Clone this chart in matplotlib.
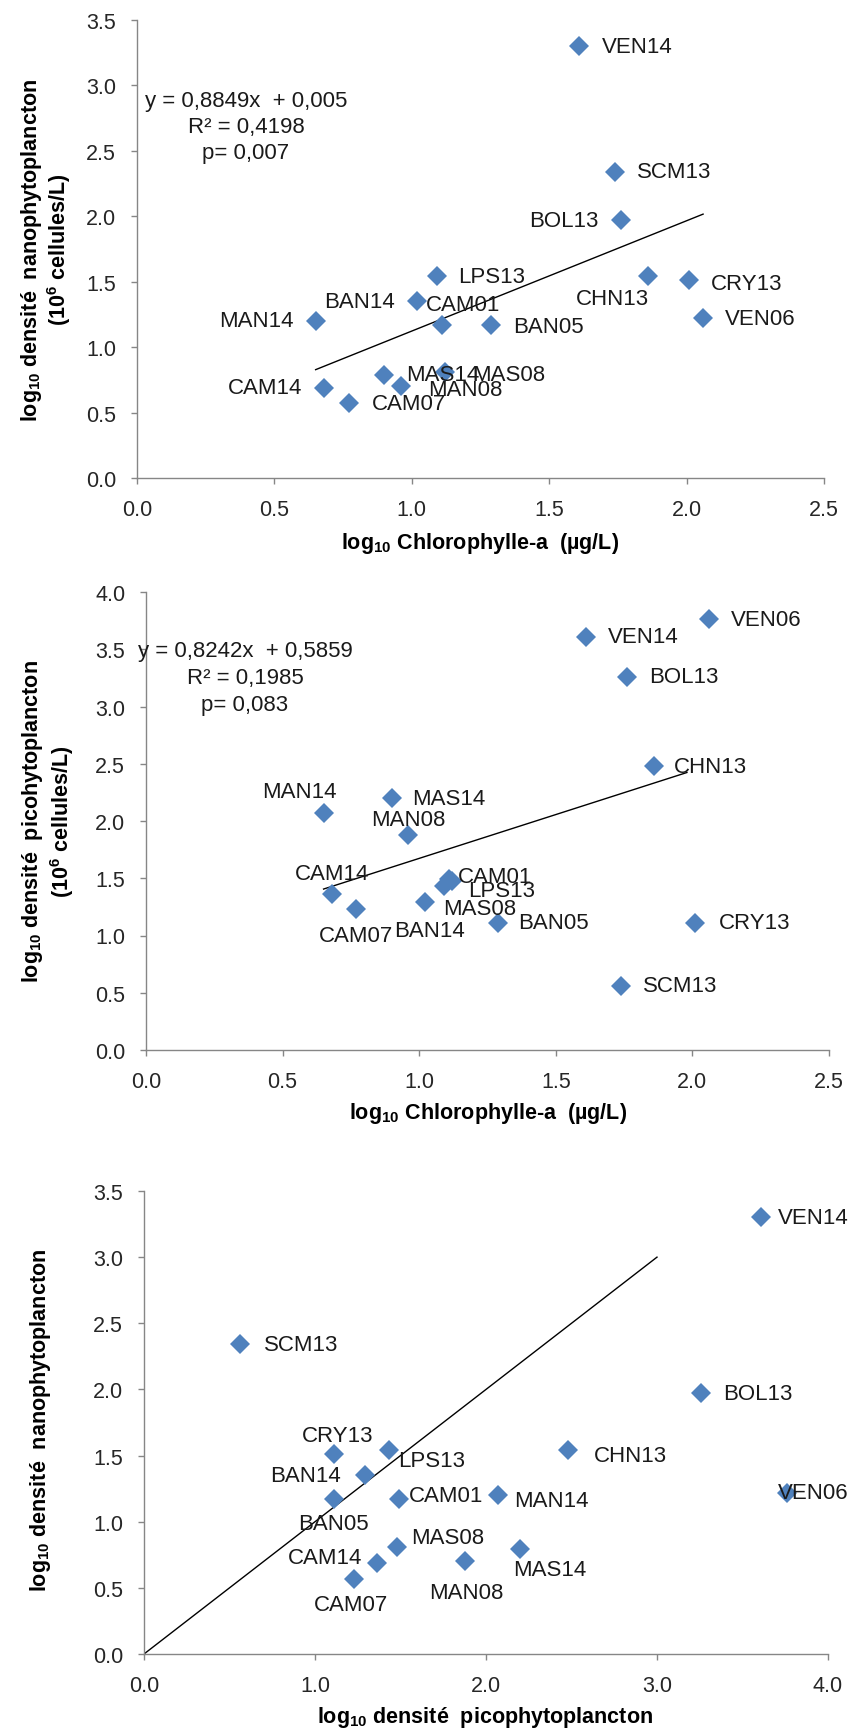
import numpy as np
import matplotlib
matplotlib.use("Agg")
import matplotlib.pyplot as plt

plt.rcParams['font.family'] = ['Liberation Sans', 'DejaVu Sans']
plt.rcParams['mathtext.fontset'] = 'custom'
plt.rcParams['mathtext.rm'] = 'Liberation Sans'
plt.rcParams['mathtext.bf'] = 'Liberation Sans:bold'

# data (log10 values per site)
sites = ['VEN14', 'SCM13', 'BOL13', 'LPS13', 'CHN13', 'CRY13', 'BAN14', 'CAM01',
         'BAN05', 'MAN14', 'VEN06', 'MAS14', 'MAS08', 'MAN08', 'CAM14', 'CAM07']
chl = [1.61, 1.74, 1.76, 1.09, 1.86, 2.01, 1.02, 1.11, 1.29, 0.65, 2.06, 0.90, 1.12, 0.96, 0.68, 0.77]
nano = [3.30, 2.34, 1.97, 1.54, 1.54, 1.51, 1.35, 1.17, 1.17, 1.20, 1.22, 0.79, 0.81, 0.70, 0.69, 0.57]
pico = [3.61, 0.56, 3.26, 1.43, 2.48, 1.11, 1.29, 1.49, 1.11, 2.07, 3.76, 2.20, 1.48, 1.88, 1.36, 1.23]

eq1 = ['y = 0,8849x  + 0,005', 'R² = 0,4198', 'p= 0,007']
eq2 = ['y = 0,8242x  + 0,5859', 'R² = 0,1985', 'p= 0,083']

# the pico trendline stops short of the last point in the original
trend2_xmax = 1.98

# label offsets in pixels (dx, dy down, alignment)
lab1 = [(22, 0, 'left'), (22, 0, 'left'), (-22, 0, 'right'), (22, 0, 'left'),
        (-36, 22, 'center'), (22, 3, 'left'), (-22, 0, 'right'), (-16, -20, 'left'),
        (22, 2, 'left'), (-22, 0, 'right'), (22, 0, 'left'), (22, 0, 'left'),
        (27, 2, 'left'), (27, 3, 'left'), (-22, 0, 'right'), (23, 0, 'left')]
lab2 = [(22, 0, 'left'), (22, 0, 'left'), (22, 0, 'left'), (24, 4, 'left'),
        (20, 0, 'left'), (24, 0, 'left'), (5, 28, 'center'), (9, -3, 'left'),
        (20, 0, 'left'), (-24, -21, 'center'), (22, 0, 'left'), (20, 0, 'left'),
        (28, 28, 'center'), (0, -15, 'center'), (0, -21, 'center'), (0, 26, 'center')]
lab3 = [(17, 0, 'left'), (24, 0, 'left'), (22, 0, 'left'), (10, 10, 'left'),
        (26, 5, 'left'), (4, -19, 'center'), (-24, 0, 'right'), (10, -4, 'left'),
        (0, 24, 'center'), (16, 5, 'left'), (-9, 0, 'left'), (30, 20, 'center'),
        (14, -9, 'left'), (1, 31, 'center'), (-14, -5, 'right'), (-3, 26, 'center')]

W, H = 850, 1733
BLUE = '#4F81BD'
GRAY = '#868686'
FS = 15.5
FS_LAB = 16

fig = plt.figure(figsize=(W / 100, H / 100), dpi=100)


def make_axes(left, top, right, bottom):
    ax = fig.add_axes([left / W, 1 - bottom / H, (right - left) / W, (bottom - top) / H])
    for s in ['top', 'right']:
        ax.spines[s].set_visible(False)
    for s in ['left', 'bottom']:
        ax.spines[s].set_color(GRAY)
        ax.spines[s].set_linewidth(1.0)
    ax.tick_params(direction='out', length=4, width=1, color=GRAY,
                   labelsize=FS, labelcolor='#262626', pad=11)
    return ax


def scatter_labels(ax, x, y, offsets):
    ax.plot(x, y, 'D', color=BLUE, markersize=10, markeredgewidth=0, clip_on=False, zorder=3)
    for name, xi, yi, (dx, dy, ha) in zip(sites, x, y, offsets):
        ax.annotate(name, (xi, yi), xytext=(dx, -dy), textcoords='offset pixels',
                    ha=ha, va='center', fontsize=FS_LAB, color='#1a1a1a', zorder=4)


def trend(ax, x, y, xmax=None):
    x = np.asarray(x)
    k, b = np.polyfit(x, y, 1)
    xs = np.array([x.min(), x.max() if xmax is None else xmax])
    ax.plot(xs, k * xs + b, color='black', lw=1, zorder=2)


def fig_text(px, py, s, **kw):
    fig.text(px / W, 1 - py / H, s, ha='center', va='center', **kw)


# chart 1: nano vs chl
ax1 = make_axes(137, 21, 824, 479)
scatter_labels(ax1, chl, nano, lab1)
trend(ax1, chl, nano)
ax1.set_xlim(0, 2.5)
ax1.set_ylim(0, 3.5)
ax1.set_xticks(np.arange(0, 2.51, 0.5))
ax1.set_yticks(np.arange(0, 3.51, 0.5))
ax1.xaxis.set_major_formatter('{x:.1f}')
ax1.yaxis.set_major_formatter('{x:.1f}')
for i, line in enumerate(eq1):
    fig_text(246, 102 + 26 * i, line, fontsize=FS_LAB, color='#1a1a1a')
fig_text(480, 543, r'log$_{\mathbf{10}}$ Chlorophylle-a  (µg/L)', fontsize=FS, fontweight='bold')
fig_text(32, 250, r'log$_{\mathbf{10}}$ densité  nanophytoplancton', fontsize=FS, fontweight='bold', rotation=90)
fig_text(59, 250, r'(10$^{\mathbf{6}}$ cellules/L)', fontsize=FS, fontweight='bold', rotation=90)

# chart 2: pico vs chl
ax2 = make_axes(146, 593, 829, 1051)
scatter_labels(ax2, chl, pico, lab2)
trend(ax2, chl, pico, trend2_xmax)
ax2.set_xlim(0, 2.5)
ax2.set_ylim(0, 4.0)
ax2.set_xticks(np.arange(0, 2.51, 0.5))
ax2.set_yticks(np.arange(0, 4.01, 0.5))
ax2.xaxis.set_major_formatter('{x:.1f}')
ax2.yaxis.set_major_formatter('{x:.1f}')
for i, line in enumerate(eq2):
    fig_text(245, 652 + 27 * i, line, fontsize=FS_LAB, color='#1a1a1a')
fig_text(488, 1113, r'log$_{\mathbf{10}}$ Chlorophylle-a  (µg/L)', fontsize=FS, fontweight='bold')
fig_text(33, 822, r'log$_{\mathbf{10}}$ densité  picohytoplancton', fontsize=FS, fontweight='bold', rotation=90)
fig_text(62, 822, r'(10$^{\mathbf{6}}$ cellules/L)', fontsize=FS, fontweight='bold', rotation=90)

# chart 3: nano vs pico
ax3 = make_axes(144, 1192, 828, 1655)
scatter_labels(ax3, pico, nano, lab3)
ax3.plot([0, 3], [0, 3], color='black', lw=1, zorder=2)
ax3.set_xlim(0, 4.0)
ax3.set_ylim(0, 3.5)
ax3.set_xticks(np.arange(0, 4.01, 1.0))
ax3.set_yticks(np.arange(0, 3.51, 0.5))
ax3.xaxis.set_major_formatter('{x:.1f}')
ax3.yaxis.set_major_formatter('{x:.1f}')
fig_text(485, 1718, r'log$_{\mathbf{10}}$ densité  picophytoplancton', fontsize=FS, fontweight='bold')
fig_text(41, 1420, r'log$_{\mathbf{10}}$ densité  nanophytoplancton', fontsize=FS, fontweight='bold', rotation=90)

fig.savefig('out.png', dpi=100)
